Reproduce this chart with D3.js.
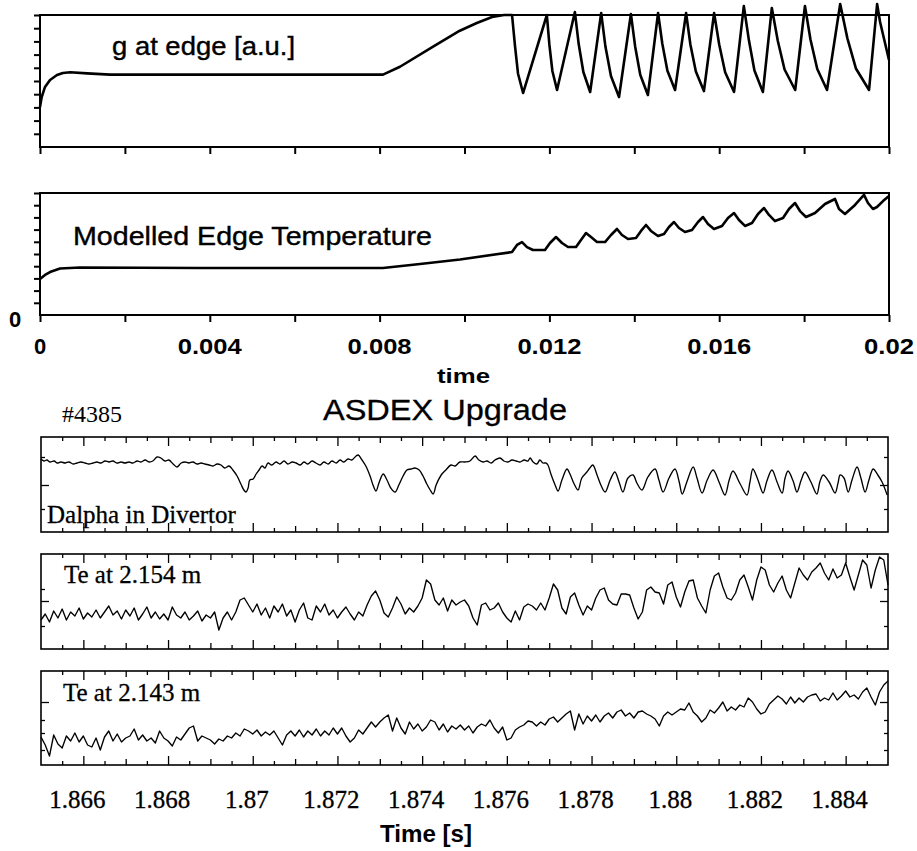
<!DOCTYPE html>
<html><head><meta charset="utf-8">
<script src="https://cdn.jsdelivr.net/npm/d3@7"></script>
<style>body{margin:0;background:#fff}svg{display:block}</style>
</head><body><svg id="c" width="917" height="851"></svg>
<script>
// ---------- DATA ----------
// Modelled g at edge [a.u.]: [time s, value]
const gEdge = [[0,0.303],[0.00004,0.379],[0.000118,0.455],[0.000236,0.508],[0.0004,0.545],[0.00054,0.561],[0.00071,0.566],[0.00111,0.558],[0.00165,0.548],[0.00455,0.548],[0.00808,0.548],[0.00848,0.608],[0.00926,0.760],[0.00989,0.881],[0.01029,0.939],[0.01065,0.985],[0.01093,1.0],[0.01112,1.0],
[0.01119,0.765],[0.01126,0.557],[0.01138,0.409],[0.01194,1.0],
[0.01200,0.773],[0.01207,0.576],[0.01218,0.432],[0.01260,1.023],
[0.01269,0.780],[0.01280,0.568],[0.01296,0.417],[0.01322,1.015],
[0.01332,0.761],[0.01345,0.538],[0.01364,0.379],[0.01392,1.008],
[0.01402,0.762],[0.01414,0.547],[0.01432,0.394],[0.01456,1.015],
[0.01466,0.782],[0.01478,0.578],[0.01496,0.432],[0.01522,1.015],
[0.01532,0.779],[0.01545,0.572],[0.01564,0.424],[0.01588,1.015],
[0.01600,0.776],[0.01614,0.566],[0.01635,0.417],[0.01658,1.068],
[0.01670,0.808],[0.01683,0.580],[0.01703,0.417],[0.01724,1.053],
[0.01738,0.805],[0.01754,0.587],[0.01779,0.432],[0.01802,1.068],
[0.01815,0.814],[0.01831,0.591],[0.01854,0.432],[0.01885,1.083],
[0.01902,0.823],[0.01922,0.595],[0.01953,0.432],[0.01972,1.083],
[0.01979,0.947],[0.02,0.659]];

// Modelled edge temperature [a.u.]: [time s, value]
const tEdge = [[0,0.295],[0.000118,0.328],[0.000236,0.352],[0.000471,0.381],[0.000942,0.389],[0.003769,0.385],[0.00808,0.385],[0.008952,0.418],[0.009894,0.455],[0.011119,0.516],[0.011237,0.574],[0.011355,0.598],[0.011472,0.557],[0.011614,0.533],[0.011896,0.533],[0.012014,0.590],[0.012155,0.639],[0.012297,0.590],[0.012438,0.557],[0.012627,0.557],[0.012744,0.615],[0.012862,0.672],[0.01298,0.639],[0.013121,0.598],[0.01331,0.598],[0.013451,0.656],[0.013592,0.705],[0.01371,0.656],[0.013852,0.623],[0.01404,0.631],[0.014158,0.689],[0.014276,0.738],[0.014393,0.689],[0.014558,0.648],[0.0147,0.664],[0.014817,0.721],[0.014935,0.762],[0.015053,0.713],[0.015194,0.680],[0.015359,0.697],[0.015501,0.762],[0.015618,0.803],[0.015736,0.746],[0.015877,0.705],[0.016066,0.730],[0.016207,0.795],[0.016349,0.836],[0.016466,0.779],[0.016608,0.730],[0.016773,0.754],[0.016914,0.828],[0.017055,0.877],[0.017173,0.820],[0.017314,0.770],[0.017503,0.795],[0.017644,0.869],[0.017786,0.918],[0.017903,0.852],[0.018045,0.803],[0.018257,0.836],[0.018492,0.910],[0.018728,0.951],[0.018822,0.869],[0.018963,0.828],[0.019199,0.902],[0.019411,0.984],[0.019505,0.918],[0.019623,0.869],[0.019717,0.885],[0.019859,0.934],[0.02,0.975]];

// Dalpha in divertor: [ms after 1.865 s, a.u.]
const dalpha = [[0.00,73],[0.07,71],[0.14,72],[0.21,70],[0.31,71],[0.38,69],[0.47,70],[0.57,69],[0.66,70],[0.76,68],[0.85,69],[0.94,70],[1.04,69],[1.13,68],[1.23,69],[1.32,70],[1.42,69],[1.51,71],[1.61,70],[1.70,71],[1.79,69],[1.89,70],[1.98,69],[2.08,70],[2.17,69],[2.27,71],[2.36,70],[2.46,72],[2.55,70],[2.64,71],[2.74,75],[2.83,74],[2.93,71],[3.02,72],[3.12,68],[3.21,65],[3.31,69],[3.40,70],[3.49,69],[3.59,70],[3.68,68],[3.78,69],[3.87,68],[3.97,67],[4.06,66],[4.16,68],[4.25,67],[4.34,64],[4.44,66],[4.53,62],[4.63,56],[4.72,48],[4.79,42],[4.84,40],[4.89,44],[4.93,52],[5.01,53],[5.08,58],[5.15,62],[5.22,66],[5.29,64],[5.36,69],[5.45,67],[5.55,70],[5.64,68],[5.74,71],[5.83,68],[5.93,70],[6.02,69],[6.12,67],[6.21,70],[6.30,68],[6.40,71],[6.49,69],[6.59,67],[6.68,70],[6.78,68],[6.87,71],[6.97,69],[7.06,72],[7.15,70],[7.25,73],[7.34,72],[7.44,76],[7.49,77],[7.58,72],[7.67,66],[7.77,56],[7.84,47],[7.91,41],[7.98,49],[8.08,58],[8.17,52],[8.26,44],[8.36,40],[8.45,47],[8.55,56],[8.64,62],[8.74,63],[8.83,64],[8.93,62],[9.02,56],[9.11,48],[9.19,42],[9.26,38],[9.33,47],[9.45,57],[9.56,62],[9.68,67],[9.78,66],[9.89,70],[10.01,70],[10.13,71],[10.25,76],[10.34,72],[10.44,70],[10.53,71],[10.63,69],[10.72,72],[10.84,74],[10.93,71],[11.03,70],[11.12,72],[11.22,71],[11.31,70],[11.41,72],[11.50,71],[11.55,74],[11.62,70],[11.71,68],[11.78,72],[11.85,69],[11.92,69],[11.97,67],[12.04,58],[12.14,47],[12.21,41],[12.30,52],[12.42,63],[12.49,58],[12.59,48],[12.68,42],[12.77,54],[12.89,60],[12.96,64],[13.03,67],[13.13,57],[13.22,47],[13.32,40],[13.44,52],[13.55,60],[13.65,50],[13.74,40],[13.86,54],[13.98,57],[14.07,49],[14.19,42],[14.33,55],[14.50,63],[14.59,52],[14.69,40],[14.83,54],[14.97,63],[15.07,50],[15.14,38],[15.25,50],[15.40,65],[15.49,54],[15.61,39],[15.73,52],[15.87,62],[16.01,50],[16.15,37],[16.25,52],[16.34,61],[16.51,48],[16.67,37],[16.74,50],[16.81,63],[16.93,52],[17.05,39],[17.14,51],[17.26,62],[17.38,50],[17.50,39],[17.57,54],[17.64,61],[17.76,51],[17.85,40],[17.95,52],[18.04,60],[18.18,50],[18.32,38],[18.39,50],[18.47,57],[18.61,50],[18.75,39],[18.82,49],[18.87,57],[18.96,54],[19.06,40],[19.15,52],[19.27,65],[19.36,54],[19.46,40],[19.55,52],[19.65,63],[19.76,57],[19.86,50],[19.98,37]];

// Te at 2.154 m, sampled every 0.1 ms from 1.865 s [a.u.]
const te2154 = [
29,35,27,38,31,40,29,37,33,41,
30,36,32,39,31,37,43,34,38,30,
39,33,41,29,35,42,31,37,30,35,
29,42,34,31,37,29,33,38,28,34,
31,37,19,31,37,29,37,49,51,44,
37,45,34,41,31,43,37,45,33,39,
27,39,46,31,29,43,37,45,34,39,
31,37,42,35,29,37,33,44,53,58,
49,36,32,41,52,45,35,41,37,43,
51,69,65,49,44,51,38,49,44,47,
49,43,31,24,44,46,39,41,46,37,
31,27,38,29,42,45,43,39,46,39,
51,65,59,41,35,52,56,44,34,43,
39,51,59,61,49,45,44,55,55,54,
41,30,37,59,62,57,56,45,64,67,
52,42,57,68,69,51,43,36,59,73,
76,62,51,49,56,69,74,62,49,69,
82,79,64,57,66,73,59,51,66,81,
74,69,77,81,86,76,69,80,71,74,
86,72,59,74,89,84,61,79,92,89,
64];

// Te at 2.143 m, sampled every 0.1 ms from 1.865 s [a.u.]
const te2143 = [
28,20,9,30,21,17,29,24,32,23,
29,20,18,27,15,28,34,24,31,23,
27,29,36,25,30,24,27,22,34,27,
24,19,28,25,31,37,39,24,29,27,
25,21,26,24,29,27,32,29,36,34,
31,35,29,33,30,34,27,20,30,34,
29,35,28,34,30,36,29,34,30,37,
31,37,29,23,27,35,31,37,43,38,
43,47,50,34,47,37,31,43,36,41,
34,38,45,43,35,41,33,39,36,40,
35,39,32,38,41,39,45,37,32,38,
25,27,35,38,40,44,43,39,43,40,
46,48,43,47,51,54,35,51,41,49,
44,50,43,49,52,47,53,55,49,52,
47,53,54,51,49,46,39,49,53,50,
53,56,55,62,53,49,43,47,55,52,
57,63,54,58,55,60,58,67,63,56,
51,53,61,65,69,66,61,68,62,67,
63,68,70,71,64,67,65,72,65,69,
74,68,70,66,73,77,68,60,73,80,
84];

const topTicks = [0,0.002,0.004,0.006,0.008,0.01,0.012,0.014,0.016,0.018,0.02];
const topLabels = [0,0.004,0.008,0.012,0.016,0.02];
const topYTicks = [0.1,0.2,0.3,0.4,0.5,0.6,0.7,0.8,0.9,1.0];
const bottomLabels = [1.866,1.868,1.87,1.872,1.874,1.876,1.878,1.88,1.882,1.884];
const dalphaYTicks = [23,47,75];
const te2154YTicks = [23,48,60];
const te2143YTicks = [15,32,45,63];

// ---------- DRAW ----------
const svg = d3.select("#c");
const SANS = "'Liberation Sans', Arial, Helvetica, sans-serif";
const SERIF = "'Liberation Serif', 'Times New Roman', serif";

const xTop = d3.scaleLinear().domain([0, 0.02]).range([40, 889]);
const yG = d3.scaleLinear().domain([0, 1]).range([147, 15]);
const yT = d3.scaleLinear().domain([0, 1]).range([315, 193]);

function styleAxis(sel, w) {
  sel.select(".domain").remove();
  sel.selectAll(".tick line").attr("stroke", "#000").attr("stroke-width", w);
}

[[yG, 15, 147], [yT, 193, 315]].forEach(([ys, top, bot]) => {
  svg.append("g").attr("transform", "translate(40,0)")
    .call(d3.axisLeft(ys).tickValues(topYTicks).tickSize(6).tickFormat(""))
    .call(s => styleAxis(s, 2));
  svg.append("g").attr("transform", `translate(0,${bot})`)
    .call(d3.axisBottom(xTop).tickValues(topTicks).tickSize(7).tickFormat(""))
    .call(s => styleAxis(s, 2));
  svg.append("rect").attr("x", 40).attr("y", top).attr("width", 849).attr("height", bot - top)
    .attr("fill", "none").attr("stroke", "#000").attr("stroke-width", 2);
});

const lineTop = (ys) => d3.line().x(d => xTop(d[0])).y(d => ys(d[1]));
svg.append("path").datum(gEdge).attr("d", lineTop(yG))
  .attr("fill", "none").attr("stroke", "#000").attr("stroke-width", 2.6).attr("stroke-linejoin", "round");
svg.append("path").datum(tEdge).attr("d", lineTop(yT))
  .attr("fill", "none").attr("stroke", "#000").attr("stroke-width", 2.6).attr("stroke-linejoin", "round");

svg.append("text").attr("x", 112).attr("y", 55).attr("font-family", SANS).attr("font-size", 26)
  .attr("stroke", "#000").attr("stroke-width", 0.4)
  .attr("textLength", 183).attr("lengthAdjust", "spacingAndGlyphs").text("g at edge [a.u.]");
svg.append("text").attr("x", 73).attr("y", 245).attr("font-family", SANS).attr("font-size", 26)
  .attr("stroke", "#000").attr("stroke-width", 0.4)
  .attr("textLength", 359).attr("lengthAdjust", "spacingAndGlyphs").text("Modelled Edge Temperature");
svg.append("text").attr("x", 15).attr("y", 327).attr("text-anchor", "middle").attr("font-family", SANS)
  .attr("font-weight", "bold").attr("font-size", 22).text("0");

svg.selectAll(".toplab").data(topLabels).enter().append("text")
  .attr("x", d => xTop(d)).attr("y", 354).attr("text-anchor", "middle")
  .attr("font-family", SANS).attr("font-weight", "bold").attr("font-size", 22)
  .each(function(d) {
    const s = String(d);
    if (s.length > 1) d3.select(this).attr("textLength", s.length === 5 ? 64 : 50).attr("lengthAdjust", "spacingAndGlyphs");
  })
  .text(d => String(d));
svg.append("text").attr("x", 437).attr("y", 383).attr("font-family", SANS).attr("font-weight", "bold")
  .attr("font-size", 20).attr("textLength", 53).attr("lengthAdjust", "spacingAndGlyphs").text("time");

svg.append("text").attr("x", 323).attr("y", 420).attr("font-family", SANS).attr("font-size", 30)
  .attr("stroke", "#000").attr("stroke-width", 0.3)
  .attr("textLength", 244).attr("lengthAdjust", "spacingAndGlyphs").text("ASDEX Upgrade");
svg.append("text").attr("x", 62).attr("y", 422).attr("font-family", SERIF).attr("font-size", 24).text("#4385");

// bottom panels
const xB = d3.scaleLinear().domain([1.865, 1.885]).range([41, 888]);
const halfMs = d3.range(0, 41).map(i => 1.865 + i * 0.0005);
const minorT = halfMs.filter((d, i) => i % 2 === 1);
const medT = halfMs.filter((d, i) => i % 4 === 0 && i > 0 && i < 40);
const majorT = bottomLabels;

const teTime = i => 1.865 + i * 0.0001;
const panels = [
  {data: dalpha.map(d => [1.865 + d[0] / 1000, d[1]]), top: 437, bottom: 532, ymax: 95, yt: dalphaYTicks, big: 47,
   label: "Dalpha in Divertor", lx: 47, ly: 523, curve: d3.curveCatmullRom.alpha(0.5)},
  {data: te2154.map((v, i) => [teTime(i), v]), top: 554, bottom: 649, ymax: 95, yt: te2154YTicks, big: 48,
   label: "Te at 2.154 m", lx: 64, ly: 583, curve: d3.curveLinear},
  {data: te2143.map((v, i) => [teTime(i), v]), top: 671, bottom: 765, ymax: 94, yt: te2143YTicks, big: 63,
   label: "Te at 2.143 m", lx: 63, ly: 701, curve: d3.curveLinear}
];

panels.forEach(p => {
  const y = d3.scaleLinear().domain([0, p.ymax]).range([p.bottom, p.top]);
  const g = svg.append("g");
  [[majorT, 9], [medT, 6], [minorT, 4]].forEach(([vals, len]) => {
    g.append("g").attr("transform", `translate(0,${p.top})`)
      .call(d3.axisBottom(xB).tickValues(vals).tickSize(len).tickFormat(""))
      .call(s => styleAxis(s, 1.3));
    g.append("g").attr("transform", `translate(0,${p.bottom})`)
      .call(d3.axisTop(xB).tickValues(vals).tickSize(len).tickFormat(""))
      .call(s => styleAxis(s, 1.3));
  });
  [[p.yt.filter(v => v === p.big), 8], [p.yt.filter(v => v !== p.big), 4]].forEach(([vals, len]) => {
    g.append("g").attr("transform", "translate(41,0)")
      .call(d3.axisRight(y).tickValues(vals).tickSize(len).tickFormat(""))
      .call(s => styleAxis(s, 1.3));
    g.append("g").attr("transform", "translate(888,0)")
      .call(d3.axisLeft(y).tickValues(vals).tickSize(len).tickFormat(""))
      .call(s => styleAxis(s, 1.3));
  });
  g.append("rect").attr("x", 41).attr("y", p.top).attr("width", 847).attr("height", p.bottom - p.top)
    .attr("fill", "none").attr("stroke", "#000").attr("stroke-width", 1.6);
  g.append("path").datum(p.data)
    .attr("d", d3.line().curve(p.curve).x(d => xB(d[0])).y(d => y(d[1])))
    .attr("fill", "none").attr("stroke", "#000").attr("stroke-width", 1.35).attr("stroke-linejoin", "round");
  g.append("text").attr("x", p.lx).attr("y", p.ly).attr("font-family", SERIF).attr("font-size", 25)
    .attr("stroke", "#000").attr("stroke-width", 0.3).text(p.label);
});

svg.selectAll(".blab").data(bottomLabels).enter().append("text")
  .attr("x", d => xB(d) - 6).attr("y", 808).attr("text-anchor", "middle")
  .attr("font-family", SERIF).attr("font-size", 25)
  .attr("stroke", "#000").attr("stroke-width", 0.3)
  .text(d => String(+d.toFixed(3)));
svg.append("text").attr("x", 380).attr("y", 842).attr("font-family", SANS).attr("font-weight", "bold")
  .attr("font-size", 24).attr("textLength", 92).attr("lengthAdjust", "spacingAndGlyphs").text("Time [s]");
</script></body></html>
